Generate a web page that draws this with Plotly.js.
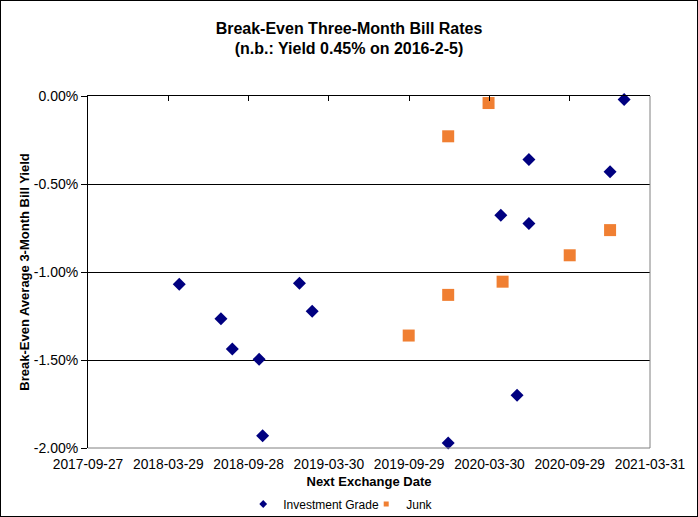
<!DOCTYPE html>
<html>
<head>
<meta charset="utf-8">
<script src="https://cdn.plot.ly/plotly-3.0.1.min.js"></script>
<style>
html,body{margin:0;padding:0;background:#fff;}
#chart{width:698px;height:517px;box-sizing:border-box;border:1px solid #000;}
</style>
</head>
<body>
<div id="chart"></div>
<script>
// Data
const igDates = ["2018-04-23","2018-07-27","2018-08-22","2018-10-22","2018-10-30","2019-01-22","2019-02-20","2019-12-27","2020-04-25","2020-06-01","2020-06-28","2020-06-28","2020-12-30","2021-01-31"];
const igYields = [-1.07,-1.265,-1.437,-1.496,-1.93,-1.064,-1.223,-1.972,-0.677,-1.70,-0.361,-0.724,-0.431,-0.02];
const junkDates = ["2019-09-28","2019-12-27","2019-12-27","2020-03-28","2020-04-29","2020-09-29","2020-12-30"];
const junkYields = [-1.361,-1.13,-0.229,-0.04,-1.055,-0.905,-0.762];

const xTickDates = ["2017-09-27","2018-03-29","2018-09-28","2019-03-30","2019-09-29","2020-03-30","2020-09-29","2021-03-31"];
const yTickVals = [-2,-1.5,-1,-0.5,0];
const yTickLabels = ["-2.00%","-1.50%","-1.00%","-0.50%","0.00%"];

const navy = "#000080";
const orange = "#F07F32";
const font = "Liberation Sans, Arial, sans-serif";

const traces = [
  {x: igDates, y: igYields, type: "scatter", mode: "markers", name: "Investment Grade", showlegend: false,
   marker: {symbol: "diamond", size: 10, color: navy}, cliponaxis: false, hoverinfo: "x+y"},
  {x: junkDates, y: junkYields, type: "scatter", mode: "markers", name: "Junk", showlegend: false,
   marker: {symbol: "square", size: 12, color: orange}, cliponaxis: false, hoverinfo: "x+y"},
  // legend entries (small symbols as in the reference)
  {x: [null], y: [null], type: "scatter", mode: "markers", name: "Investment Grade",
   marker: {symbol: "diamond", size: 6, color: navy}},
  {x: [null], y: [null], type: "scatter", mode: "markers", name: "Junk",
   marker: {symbol: "square", size: 5, color: orange}},
  // helper for top axis
  {x: [null], y: [null], xaxis: "x2", type: "scatter", mode: "markers", showlegend: false, hoverinfo: "skip"}
];

const layout = {
  width: 696, height: 515,
  margin: {l: 87, r: 47, t: 95, b: 68, pad: 0},
  paper_bgcolor: "#fff", plot_bgcolor: "#fff",
  font: {family: font, size: 13, color: "#000"},
  title: {
    text: "<b>Break-Even Three-Month Bill Rates</b><br><b>(n.b.: Yield 0.45% on 2016-2-5)</b>",
    font: {family: font, size: 16, color: "#000"},
    x: 0.5, xref: "container", xanchor: "center",
    y: 1 - 32.5/515, yref: "container", yanchor: "middle"
  },
  xaxis: {
    type: "date", range: [xTickDates[0], xTickDates[xTickDates.length-1]],
    tickmode: "array", tickvals: xTickDates, ticktext: xTickDates,
    ticks: "", showgrid: false, showline: false, zeroline: false, automargin: false,
    ticklabelstandoff: 6,
    tickfont: {family: font, size: 13.8, color: "#000"},
    title: {text: "<b>Next Exchange Date</b>", font: {family: font, size: 13, color: "#000"}, standoff: 6}
  },
  xaxis2: {
    type: "date", range: [xTickDates[0], xTickDates[xTickDates.length-1]],
    overlaying: "x", side: "top", anchor: "y",
    tickmode: "array", tickvals: xTickDates, showticklabels: false,
    ticks: "inside", ticklen: 5, tickcolor: "#000", tickwidth: 1,
    showgrid: false, showline: true, linecolor: "#000", linewidth: 1, zeroline: false, automargin: false
  },
  yaxis: {
    range: [-2, 0], tickmode: "array", tickvals: yTickVals, ticktext: yTickLabels,
    ticks: "outside", ticklen: 6, tickcolor: "#000", tickwidth: 1,
    showline: true, linecolor: "#000", linewidth: 1,
    showgrid: true, gridcolor: "#000", gridwidth: 1, zeroline: false, automargin: false,
    tickfont: {family: font, size: 14, color: "#000"},
    title: {text: "<b>Break-Even Average 3-Month Bill Yield</b>", font: {family: font, size: 13, color: "#000"}, standoff: 1}
  },
  shapes: [
    {type: "path", xref: "paper", yref: "paper", path: "M 0 0 L 1 0 L 1 1", line: {color: "#808080", width: 1}, layer: "above"}
  ],
  legend: {
    orientation: "h", xref: "container", yref: "container",
    x: 0.348, xanchor: "left", y: 1 - 503/515, yanchor: "middle",
    font: {family: font, size: 12, color: "#000"}, bgcolor: "rgba(0,0,0,0)",
    itemwidth: 30, entrywidth: 78, tracegroupgap: 0
  },
  showlegend: true
};

Plotly.newPlot("chart", traces, layout, {displayModeBar: false, staticPlot: true});
</script>
</body>
</html>
